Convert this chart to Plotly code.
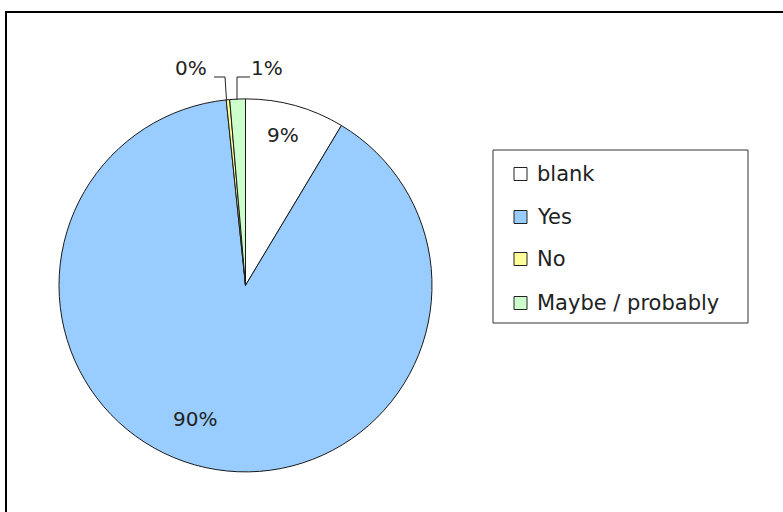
import plotly.graph_objects as go

# Survey answers and their shares (percent)
categories = ["blank", "Yes", "No", "Maybe / probably"]
values = [8.6, 89.75, 0.3, 1.35]
colors = ["#FFFFFF", "#99CCFF", "#FFFF99", "#CCFFCC"]

W, H = 783, 512
FONT = "DejaVu Sans"


def px(x, y):
    """Convert pixel position (from top-left) to paper coordinates."""
    return x / W, 1 - y / H


total = sum(values)
pct_text = [f"{round(v / total * 100)}%" for v in values]

# pie placement: centre (245.5, 285.4), radius 186.5 px
cx, cy, r = 245.5, 285.4, 186.5
x0, y1 = px(cx - r, cy - r)
x1, y0 = px(cx + r, cy + r)

fig = go.Figure(
    go.Pie(
        labels=categories,
        values=values,
        marker=dict(colors=colors, line=dict(color="#1a1a1a", width=1)),
        sort=False,
        direction="clockwise",
        rotation=0,
        textinfo="none",
        hoverinfo="label+percent",
        showlegend=False,
        domain=dict(x=[x0, x1], y=[y0, y1]),
    )
)

shapes = []
annotations = []

# outer frame
fx0, fy0 = px(6, 12)
fx1, fy1 = px(W + 10, H + 10)
shapes.append(dict(type="rect", xref="paper", yref="paper",
                   x0=fx0, y0=fy1, x1=fx1, y1=fy0,
                   line=dict(color="#000000", width=2), fillcolor="rgba(0,0,0,0)"))

# percentage labels
label_pos = {"blank": (282.5, 135), "Yes": (195, 418.5),
             "No": (191, 68), "Maybe / probably": (267, 68)}
for cat, txt in zip(categories, pct_text):
    lx, ly = px(*label_pos[cat])
    annotations.append(dict(x=lx, y=ly, xref="paper", yref="paper",
                            text=txt, showarrow=False,
                            xanchor="center", yanchor="middle",
                            font=dict(family=FONT, size=20, color="#222222")))

# leader lines for the two thin slices
leaders = [
    [(214, 77), (225, 77), (226.5, 100)],
    [(250, 77), (237, 77), (237, 100)],
]
for pts in leaders:
    path = ""
    for i, (x, y) in enumerate(pts):
        X, Y = px(x, y)
        path += ("M" if i == 0 else "L") + f"{X},{Y} "
    shapes.append(dict(type="path", xref="paper", yref="paper", path=path.strip(),
                       line=dict(color="#222222", width=1)))

# legend box
lx0, ly0 = px(493, 150)
lx1, ly1 = px(748, 323)
shapes.append(dict(type="rect", xref="paper", yref="paper",
                   x0=lx0, y0=ly1, x1=lx1, y1=ly0,
                   line=dict(color="#333333", width=1), fillcolor="#FFFFFF"))

row_y = [174, 217, 259, 303]
for cat, col, yy in zip(categories, colors, row_y):
    sx0, sy0 = px(514, yy - 6.5)
    sx1, sy1 = px(527, yy + 6.5)
    shapes.append(dict(type="rect", xref="paper", yref="paper",
                       x0=sx0, y0=sy1, x1=sx1, y1=sy0,
                       line=dict(color="#222222", width=1), fillcolor=col))
    tx, ty = px(535, yy)
    annotations.append(dict(x=tx, y=ty, xref="paper", yref="paper",
                            text=cat, showarrow=False,
                            xanchor="left", yanchor="middle",
                            font=dict(family=FONT, size=21, color="#222222")))

fig.update_layout(
    width=W, height=H,
    margin=dict(l=0, r=0, t=0, b=0),
    paper_bgcolor="#FFFFFF",
    plot_bgcolor="#FFFFFF",
    shapes=shapes,
    annotations=annotations,
)

fig.write_html("out.html")
